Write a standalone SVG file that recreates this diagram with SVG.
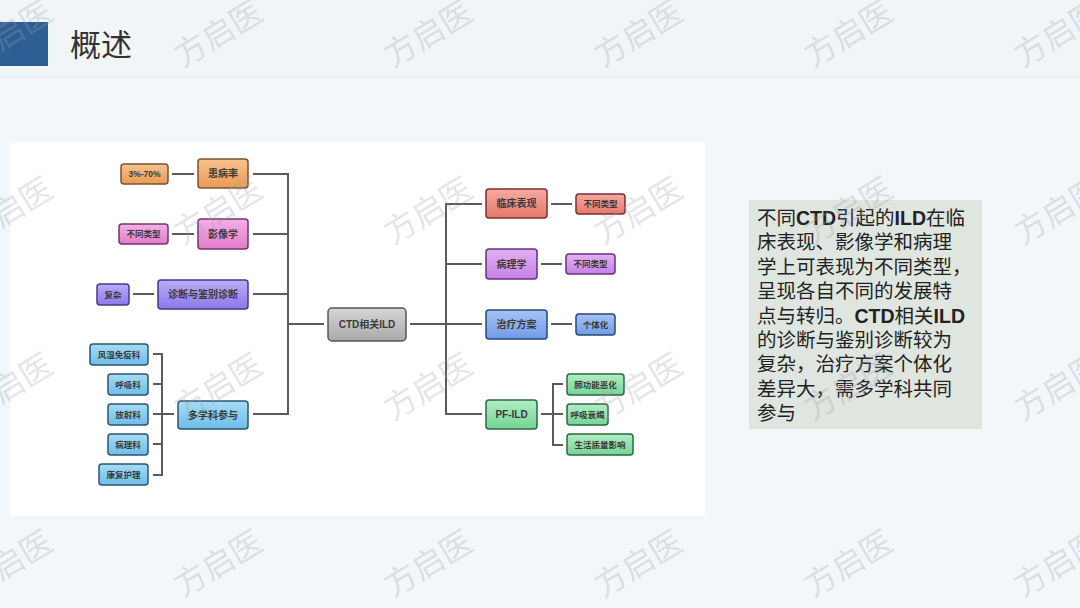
<svg xmlns="http://www.w3.org/2000/svg" width="1080" height="608" viewBox="0 0 1080 608">
<defs>
<linearGradient id="gOr" x1="0" y1="0" x2="0" y2="1"><stop offset="0" stop-color="#f7c290"/><stop offset="1" stop-color="#eb9a55"/></linearGradient>
<linearGradient id="gPk" x1="0" y1="0" x2="0" y2="1"><stop offset="0" stop-color="#f4b0e6"/><stop offset="1" stop-color="#e07ccc"/></linearGradient>
<linearGradient id="gPu" x1="0" y1="0" x2="0" y2="1"><stop offset="0" stop-color="#b9acf7"/><stop offset="1" stop-color="#8d78ec"/></linearGradient>
<linearGradient id="gSky" x1="0" y1="0" x2="0" y2="1"><stop offset="0" stop-color="#a6dcf7"/><stop offset="1" stop-color="#6dbde9"/></linearGradient>
<linearGradient id="gGr" x1="0" y1="0" x2="0" y2="1"><stop offset="0" stop-color="#d6d6d6"/><stop offset="1" stop-color="#a9a9a9"/></linearGradient>
<linearGradient id="gRd" x1="0" y1="0" x2="0" y2="1"><stop offset="0" stop-color="#f6aaa2"/><stop offset="1" stop-color="#e6786c"/></linearGradient>
<linearGradient id="gVi" x1="0" y1="0" x2="0" y2="1"><stop offset="0" stop-color="#e2b0f4"/><stop offset="1" stop-color="#c680e6"/></linearGradient>
<linearGradient id="gBl" x1="0" y1="0" x2="0" y2="1"><stop offset="0" stop-color="#a6c4f4"/><stop offset="1" stop-color="#6f9be8"/></linearGradient>
<linearGradient id="gGn" x1="0" y1="0" x2="0" y2="1"><stop offset="0" stop-color="#b2edc4"/><stop offset="1" stop-color="#74d494"/></linearGradient>
</defs>
<style>
.bgtxt{font-family:"Noto Sans CJK SC",sans-serif;}
.nt{font-family:"Liberation Sans","Noto Sans CJK SC",sans-serif;font-weight:bold;fill:#3a3a3a;text-anchor:middle;dominant-baseline:central;}
.big{font-size:10px;}
.sm{font-size:8.5px;}
.conn{stroke:#5a5a5a;stroke-width:2;fill:none;}
.or{fill:url(#gOr);stroke:#7a5330;stroke-width:1.5;}
.pk{fill:url(#gPk);stroke:#74356a;stroke-width:1.5;}
.pu{fill:url(#gPu);stroke:#453a86;stroke-width:1.5;}
.sky{fill:url(#gSky);stroke:#2b5670;stroke-width:1.5;}
.gr{fill:url(#gGr);stroke:#555;stroke-width:1.5;}
.rd{fill:url(#gRd);stroke:#74322c;stroke-width:1.5;}
.vi{fill:url(#gVi);stroke:#63337a;stroke-width:1.5;}
.bl{fill:url(#gBl);stroke:#2b4676;stroke-width:1.5;}
.gn{fill:url(#gGn);stroke:#2d6842;stroke-width:1.5;}
.para{font-family:"Noto Sans CJK SC",sans-serif;font-size:19.5px;fill:#222;}
.lat{font-family:"Liberation Sans",sans-serif;font-weight:bold;}
.wm{font-family:"Noto Sans CJK SC",sans-serif;font-size:32px;fill:#9aa3ab;opacity:0.28;}
</style>
<rect x="0" y="0" width="1080" height="608" fill="#f4f7fa"/>
<rect x="0" y="0" width="1080" height="77" fill="#f1f5f8"/>
<line x1="0" y1="77.5" x2="1080" y2="77.5" stroke="#e6ebef" stroke-width="1"/>
<g id="header">
<rect x="0" y="22" width="48" height="44" fill="#2d5f94"/>
<text x="70" y="56" class="bgtxt" font-size="31" fill="#333">概述</text>
</g>
<rect id="panel" x="10" y="142" width="695" height="374" fill="#ffffff"/>
<g id="connectors" class="conn">
<line x1="172" y1="174" x2="194" y2="174"/>
<line x1="172" y1="234" x2="194" y2="234"/>
<line x1="133" y1="294" x2="154" y2="294"/>
<polyline points="253,174 288,174 288,414 253,414"/>
<line x1="253" y1="234" x2="288" y2="234"/>
<line x1="253" y1="294" x2="288" y2="294"/>
<line x1="288" y1="324" x2="324" y2="324"/>
<polyline points="153,354 162,354 162,475 153,475"/>
<line x1="153" y1="384" x2="162" y2="384"/>
<line x1="153" y1="414" x2="174" y2="414"/>
<line x1="153" y1="444" x2="162" y2="444"/>
<line x1="410" y1="324" x2="446" y2="324"/>
<polyline points="482,204 446,204 446,414 482,414"/>
<line x1="446" y1="264" x2="482" y2="264"/>
<line x1="446" y1="324" x2="482" y2="324"/>
<line x1="551" y1="204" x2="572" y2="204"/>
<line x1="541" y1="264" x2="562" y2="264"/>
<line x1="551" y1="324" x2="572" y2="324"/>
<line x1="541" y1="414" x2="553" y2="414"/>
<polyline points="563,384 553,384 553,445 563,445"/>
<line x1="553" y1="414" x2="563" y2="414"/>
</g>
<g id="n-root"><rect x="328" y="308" width="78" height="33" rx="4" class="gr"/><text x="367" y="324.5" class="nt big">CTD相关ILD</text></g>
<g id="n-rate"><rect x="198" y="159" width="50" height="29" rx="3" class="or"/><text x="223" y="173.5" class="nt big">患病率</text></g>
<g id="n-rate-v"><rect x="121" y="164" width="47" height="20" rx="3" class="or"/><text x="144.5" y="174" class="nt sm">3%-70%</text></g>
<g id="n-img"><rect x="198" y="219" width="50" height="30" rx="3" class="pk"/><text x="223" y="234" class="nt big">影像学</text></g>
<g id="n-img-v"><rect x="119" y="224" width="49" height="20" rx="3" class="pk"/><text x="143.5" y="234" class="nt sm">不同类型</text></g>
<g id="n-diag"><rect x="158" y="280" width="90" height="29" rx="3" class="pu"/><text x="203" y="294.5" class="nt big">诊断与鉴别诊断</text></g>
<g id="n-diag-v"><rect x="97" y="284" width="32" height="21" rx="3" class="pu"/><text x="113" y="294.5" class="nt sm">复杂</text></g>
<g id="n-multi"><rect x="178" y="401" width="70" height="28" rx="3" class="sky"/><text x="213" y="415" class="nt big">多学科参与</text></g>
<g id="n-d1"><rect x="90" y="344" width="58" height="21" rx="3" class="sky"/><text x="119" y="354.5" class="nt sm">风湿免疫科</text></g>
<g id="n-d2"><rect x="108" y="374" width="40" height="21" rx="3" class="sky"/><text x="128" y="384.5" class="nt sm">呼吸科</text></g>
<g id="n-d3"><rect x="108" y="404" width="40" height="21" rx="3" class="sky"/><text x="128" y="414.5" class="nt sm">放射科</text></g>
<g id="n-d4"><rect x="108" y="434" width="40" height="21" rx="3" class="sky"/><text x="128" y="444.5" class="nt sm">病理科</text></g>
<g id="n-d5"><rect x="99" y="464" width="49" height="21" rx="3" class="sky"/><text x="123.5" y="474.5" class="nt sm">康复护理</text></g>
<g id="n-clin"><rect x="486" y="189" width="61" height="29" rx="3" class="rd"/><text x="516.5" y="203.5" class="nt big">临床表现</text></g>
<g id="n-clin-v"><rect x="576" y="194" width="49" height="20" rx="3" class="rd"/><text x="600.5" y="204" class="nt sm">不同类型</text></g>
<g id="n-path"><rect x="486" y="249" width="51" height="30" rx="3" class="vi"/><text x="511.5" y="264" class="nt big">病理学</text></g>
<g id="n-path-v"><rect x="566" y="254" width="49" height="20" rx="3" class="vi"/><text x="590.5" y="264" class="nt sm">不同类型</text></g>
<g id="n-treat"><rect x="486" y="310" width="61" height="29" rx="3" class="bl"/><text x="516.5" y="324.5" class="nt big">治疗方案</text></g>
<g id="n-treat-v"><rect x="576" y="314" width="39" height="21" rx="3" class="bl"/><text x="595.5" y="324.5" class="nt sm">个体化</text></g>
<g id="n-pf"><rect x="486" y="400" width="51" height="29" rx="3" class="gn"/><text x="511.5" y="414.5" class="nt big">PF-ILD</text></g>
<g id="n-pf1"><rect x="567" y="374" width="57" height="21" rx="3" class="gn"/><text x="595.5" y="384.5" class="nt sm">肺功能恶化</text></g>
<g id="n-pf2"><rect x="567" y="404" width="41" height="21" rx="3" class="gn"/><text x="587.5" y="414.5" class="nt sm">呼吸衰竭</text></g>
<g id="n-pf3"><rect x="567" y="434" width="66" height="21" rx="3" class="gn"/><text x="600" y="444.5" class="nt sm">生活质量影响</text></g>
<g id="textbox">
<rect x="749" y="200" width="233" height="229" fill="#dfe5df"/>
<text class="para">
<tspan x="757" y="225">不同<tspan class="lat">CTD</tspan>引起的<tspan class="lat">ILD</tspan>在临</tspan>
<tspan x="757" y="249.4">床表现、影像学和病理</tspan>
<tspan x="757" y="273.8">学上可表现为不同类型，</tspan>
<tspan x="757" y="298.2">呈现各自不同的发展特</tspan>
<tspan x="757" y="322.6">点与转归。<tspan class="lat">CTD</tspan>相关<tspan class="lat">ILD</tspan></tspan>
<tspan x="757" y="347">的诊断与鉴别诊断较为</tspan>
<tspan x="757" y="371.4">复杂，治疗方案个体化</tspan>
<tspan x="757" y="395.8">差异大，需多学科共同</tspan>
<tspan x="757" y="420.2">参与</tspan>
</text>
</g>
<g id="watermarks" class="wm">
<text transform="translate(-27,68) rotate(-31)">方启医</text>
<text transform="translate(183,68) rotate(-31)">方启医</text>
<text transform="translate(393,68) rotate(-31)">方启医</text>
<text transform="translate(603,68) rotate(-31)">方启医</text>
<text transform="translate(813,68) rotate(-31)">方启医</text>
<text transform="translate(1023,68) rotate(-31)">方启医</text>
<text transform="translate(-27,245) rotate(-31)">方启医</text>
<text transform="translate(183,245) rotate(-31)">方启医</text>
<text transform="translate(393,245) rotate(-31)">方启医</text>
<text transform="translate(603,245) rotate(-31)">方启医</text>
<text transform="translate(813,245) rotate(-31)">方启医</text>
<text transform="translate(1023,245) rotate(-31)">方启医</text>
<text transform="translate(-27,421) rotate(-31)">方启医</text>
<text transform="translate(183,421) rotate(-31)">方启医</text>
<text transform="translate(393,421) rotate(-31)">方启医</text>
<text transform="translate(603,421) rotate(-31)">方启医</text>
<text transform="translate(813,421) rotate(-31)">方启医</text>
<text transform="translate(1023,421) rotate(-31)">方启医</text>
<text transform="translate(-27,598) rotate(-31)">方启医</text>
<text transform="translate(183,598) rotate(-31)">方启医</text>
<text transform="translate(393,598) rotate(-31)">方启医</text>
<text transform="translate(603,598) rotate(-31)">方启医</text>
<text transform="translate(813,598) rotate(-31)">方启医</text>
<text transform="translate(1023,598) rotate(-31)">方启医</text>
</g>
</svg>
